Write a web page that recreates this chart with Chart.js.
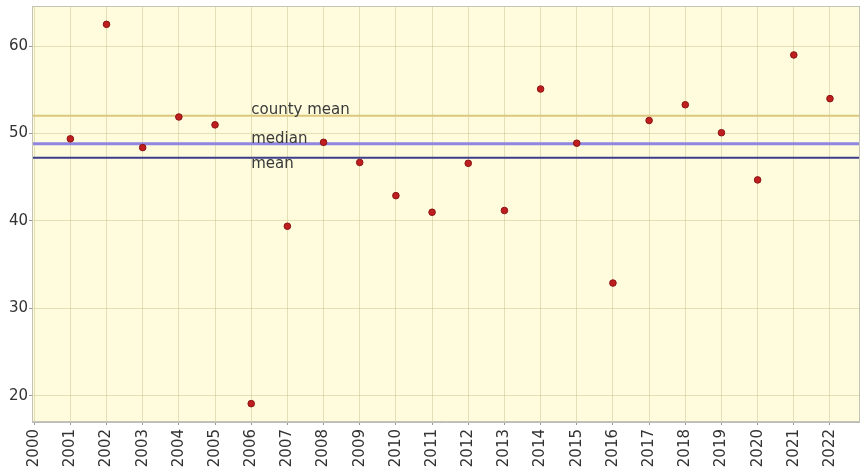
<!DOCTYPE html>
<html><head><meta charset="utf-8">
<script src="https://cdn.jsdelivr.net/npm/chart.js@4/dist/chart.umd.min.js"></script>
<style>html,body{margin:0;padding:0;background:#fff;overflow:hidden}#wrap{width:865px;height:470px}</style>
</head><body><div id="wrap"><canvas id="c"></canvas></div>
<script>
const years = [2001,2002,2003,2004,2005,2006,2007,2008,2009,2010,2011,2012,2013,2014,2015,2016,2017,2018,2019,2020,2021,2022];
const values = [49.4,62.5,48.4,51.9,51.0,19.1,39.4,49.0,46.7,42.9,41.0,46.6,41.2,55.1,48.9,32.9,51.5,53.3,50.1,44.7,59.0,54.0];
const xTicks = [2000,2001,2002,2003,2004,2005,2006,2007,2008,2009,2010,2011,2012,2013,2014,2015,2016,2017,2018,2019,2020,2021,2022];
const yTicks = [20,30,40,50,60];
const refNames = ['county mean','median','mean'];
const refValues = [52.05,48.85,47.25];
const refColors = ['#dcc77e','#8f86e2','#3d3d8e'];
const refWidths = [2,3,2];
const xMin = 1999.94, xMax = 2022.83, yMin = 17.0, yMax = 64.6;

const bgPlugin = {
  id:'bg',
  beforeDraw(chart){
    const {ctx, chartArea:a} = chart;
    ctx.save(); ctx.fillStyle='#fefcdc'; ctx.fillRect(a.left,a.top,a.right-a.left,a.bottom-a.top); ctx.restore();
  },
  afterDatasetsDraw(chart){
    const {ctx, scales, chartArea:a} = chart;
    ctx.save();
    ctx.strokeStyle='#c4c4b4'; ctx.lineWidth=1;
    ctx.strokeRect(a.left+0.5,a.top+0.5,a.right-a.left-1,a.bottom-a.top-1);
    ctx.font='15px "DejaVu Sans"';
    ctx.fillStyle='#3a3a3a';
    ctx.textAlign='left';
    const xp = scales.x.getPixelForValue(2006);
    const offs = [-6,-5,6];
    refNames.forEach((n,i)=>{
      const yp = scales.y.getPixelForValue(refValues[i]);
      ctx.textBaseline='middle';
      ctx.fillText(n, xp, yp+offs[i]);
    });
    ctx.restore();
  }
};

const datasets = refNames.map((n,i)=>({
  type:'line', label:n,
  data:[{x:xMin,y:refValues[i]},{x:xMax,y:refValues[i]}],
  borderColor:refColors[i], borderWidth:refWidths[i], pointRadius:0, order:2
}));
datasets.push({
  type:'scatter', label:'values',
  data: years.map((y,i)=>({x:y,y:values[i]})),
  backgroundColor:'#c01e1e', borderColor:'#8a1515', borderWidth:1, pointRadius:3.3, order:1
});

new Chart(document.getElementById('c'),{
  data:{datasets},
  plugins:[bgPlugin],
  options:{
    responsive:true, maintainAspectRatio:false, animation:false,
    layout:{padding:{top:0,right:0,left:0,bottom:0}},
    plugins:{legend:{display:false},tooltip:{enabled:false}},
    scales:{
      x:{type:'linear',min:xMin,max:xMax,
        afterBuildTicks(s){ s.ticks = xTicks.map(v=>({value:v})); },
        afterFit(s){ s.height = 48; s.paddingRight = 0; s.paddingLeft = 0; },
        ticks:{autoSkip:false,maxRotation:90,minRotation:90,color:'#333',font:{family:'DejaVu Sans',size:15},padding:4,
          callback:v=>String(v)},
        grid:{color:'rgba(190,180,120,0.4)',drawTicks:true,tickLength:3,tickColor:'#999'},
        border:{color:'#bbb'}
      },
      y:{type:'linear',min:yMin,max:yMax,
        afterBuildTicks(s){ s.ticks = yTicks.map(v=>({value:v})); },
        afterFit(s){ s.width = 32; s.paddingTop = 6; s.paddingBottom = 0; },
        ticks:{color:'#333',font:{family:'DejaVu Sans',size:15},padding:1},
        grid:{color:'rgba(190,180,120,0.4)',tickLength:3,tickColor:'#999'},
        border:{color:'#bbb'}
      }
    }
  }
});
</script></body></html>
